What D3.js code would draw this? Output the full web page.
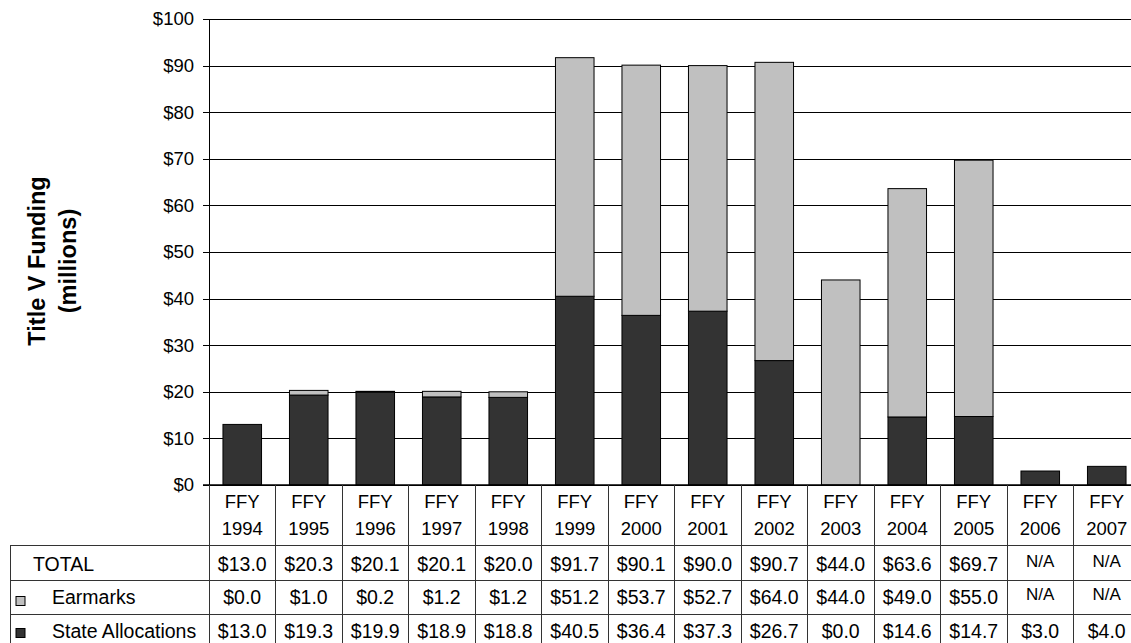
<!DOCTYPE html>
<html>
<head>
<meta charset="utf-8">
<script src="https://cdn.jsdelivr.net/npm/d3@7"></script>
<style>
  html, body { margin: 0; padding: 0; background: #fff; overflow: hidden; }
  svg { display: block; font-family: "Liberation Sans", Arial, sans-serif; }
</style>
</head>
<body>
<svg id="chart" width="1131" height="643"></svg>
<script>
// ---- data ----
const years = ["1994","1995","1996","1997","1998","1999","2000","2001","2002","2003","2004","2005","2006","2007"];
const stateAllocations = [13.0,19.3,19.9,18.9,18.8,40.5,36.4,37.3,26.7,0.0,14.6,14.7,3.0,4.0];
const earmarks = [0.0,1.0,0.2,1.2,1.2,51.2,53.7,52.7,64.0,44.0,49.0,55.0,null,null];
const totals = [13.0,20.3,20.1,20.1,20.0,91.7,90.1,90.0,90.7,44.0,63.6,69.7,null,null];
const yTicks = [0,10,20,30,40,50,60,70,80,90,100];
const rowLabels = ["TOTAL","Earmarks","State Allocations"];
const seriesColors = { earmarks: "#c0c0c0", state: "#333333" };

// ---- layout ----
const svg = d3.select("#chart");
const plotLeft = 209, plotTop = 19, plotBottom = 485;
const colW = 66.5;
const plotRight = plotLeft + colW * years.length;
const tableLeft = 10;
const rowLines = [545, 580.5, 614, 648];

const x = d3.scaleBand().domain(years).range([plotLeft, plotRight]).paddingInner(0.42).paddingOuter(0.21);
const xCell = d3.scaleBand().domain(years).range([plotLeft, plotRight]).padding(0);
const y = d3.scaleLinear().domain([0, 100]).range([plotBottom, plotTop]);

// gridlines
const grid = svg.append("g").attr("transform", `translate(${plotLeft},0)`)
  .call(d3.axisLeft(y).tickValues(yTicks).tickSize(-(plotRight - plotLeft)).tickFormat(""));
grid.select(".domain").remove();
grid.selectAll("line").attr("stroke", "#000").attr("stroke-width", 1).attr("shape-rendering", "crispEdges");

// y axis
const yAxis = svg.append("g").attr("transform", `translate(${plotLeft},0)`)
  .call(d3.axisLeft(y).tickValues(yTicks).tickSize(6).tickPadding(9).tickFormat(d => "$" + d));
yAxis.select(".domain").attr("stroke", "#000").attr("shape-rendering", "crispEdges").attr("d", `M0,${plotTop}V${plotBottom}`);
yAxis.selectAll(".tick line").attr("stroke", "#000").attr("shape-rendering", "crispEdges");
yAxis.selectAll("text").attr("font-size", 18.5).attr("fill", "#000")
  .attr("font-family", "'Liberation Sans', Arial, sans-serif");

// bars
const stackData = years.map((yr, i) => ({ year: yr, state: stateAllocations[i], earmarks: earmarks[i] || 0 }));
const stack = d3.stack().keys(["state", "earmarks"])(stackData);
svg.append("g").selectAll("g").data(stack).join("g")
  .attr("fill", d => seriesColors[d.key])
  .selectAll("rect").data(d => d.filter(s => s[1] - s[0] > 0)).join("rect")
  .attr("x", d => x(d.data.year))
  .attr("width", x.bandwidth())
  .attr("y", d => y(d[1]))
  .attr("height", d => y(d[0]) - y(d[1]))
  .attr("stroke", "#000").attr("stroke-width", 1);

// x axis baseline
svg.append("line").attr("x1", plotLeft - 6).attr("x2", plotRight).attr("y1", plotBottom).attr("y2", plotBottom)
  .attr("stroke", "#000").attr("stroke-width", 1.5);

// ---- data table ----
const tbl = svg.append("g").attr("stroke", "#333").attr("stroke-width", 1).attr("shape-rendering", "crispEdges");
years.forEach(yr => {
  tbl.append("line").attr("x1", xCell(yr)).attr("x2", xCell(yr)).attr("y1", plotBottom).attr("y2", 643);
});
tbl.append("line").attr("x1", plotRight).attr("x2", plotRight).attr("y1", plotBottom).attr("y2", 643);
tbl.append("line").attr("x1", tableLeft).attr("x2", tableLeft).attr("y1", rowLines[0]).attr("y2", 643);
rowLines.slice(0, 3).forEach(ry => {
  tbl.append("line").attr("x1", tableLeft).attr("x2", plotRight).attr("y1", ry).attr("y2", ry);
});

// header labels
const hdr = svg.append("g").attr("font-size", 18.5).attr("text-anchor", "middle").attr("fill", "#000");
years.forEach(yr => {
  const cx = xCell(yr) + xCell.bandwidth() / 2;
  hdr.append("text").attr("x", cx).attr("y", 508).text("FFY");
  hdr.append("text").attr("x", cx).attr("y", 535).text(yr);
});

// row labels and legend keys
const rowBase = [571, 604, 638];
const lab = svg.append("g").attr("font-size", 19.5).attr("fill", "#000");
lab.append("text").attr("x", 33).attr("y", rowBase[0]).text(rowLabels[0]);
lab.append("text").attr("x", 52).attr("y", rowBase[1]).text(rowLabels[1]);
lab.append("text").attr("x", 52).attr("y", rowBase[2]).text(rowLabels[2]);
lab.append("rect").attr("x", 16).attr("y", 596.5).attr("width", 9).attr("height", 9)
  .attr("fill", seriesColors.earmarks).attr("stroke", "#000");
lab.append("rect").attr("x", 16).attr("y", 628.5).attr("width", 9).attr("height", 9)
  .attr("fill", seriesColors.state).attr("stroke", "#000");

// values
const rows = [totals, earmarks, stateAllocations];
const vals = svg.append("g").attr("text-anchor", "middle").attr("fill", "#000");
rows.forEach((arr, r) => {
  years.forEach((yr, i) => {
    const v = arr[i];
    const cx = xCell(yr) + xCell.bandwidth() / 2;
    if (v === null) {
      vals.append("text").attr("x", cx).attr("y", rowBase[r] - 4).attr("font-size", 17).text("N/A");
    } else {
      vals.append("text").attr("x", cx).attr("y", rowBase[r]).attr("font-size", 19.5).text("$" + v.toFixed(1));
    }
  });
});

// y axis title
const title = svg.append("text").attr("transform", "translate(0,261) rotate(-90)")
  .attr("text-anchor", "middle").attr("font-weight", "bold").attr("font-size", 23.5).attr("fill", "#000");
title.append("tspan").attr("x", 0).attr("y", 45).text("Title V Funding");
title.append("tspan").attr("x", 0).attr("y", 76).text("(millions)");
</script>
</body>
</html>
